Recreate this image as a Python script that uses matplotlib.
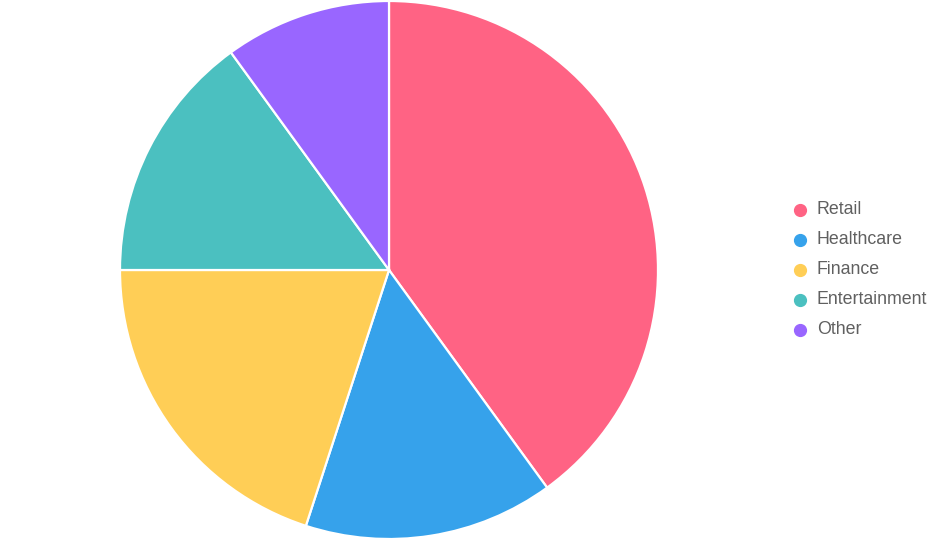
import matplotlib.pyplot as plt
from matplotlib.lines import Line2D

labels = ['Retail', 'Healthcare', 'Finance', 'Entertainment', 'Other']
values = [40, 15, 20, 15, 10]
colors = ['#FF6384', '#36A2EB', '#FFCE56', '#4BC0C0', '#9966FF']

W, H = 939, 542
fig = plt.figure(figsize=(W / 100, H / 100), dpi=100)

# pie centre (389, 270) px, radius 268 px
cx, cy, r = 389, 270, 269
ax = fig.add_axes([(cx - r) / W, 1 - (cy + r) / H, 2 * r / W, 2 * r / H])
ax.pie(values, colors=colors, startangle=90, counterclock=False,
       wedgeprops=dict(edgecolor='white', linewidth=1.6))
ax.set_aspect('equal')
ax.set_xlim(-1, 1)
ax.set_ylim(-1, 1)
ax.axis('off')

# legend on the right
for i, (lab, col) in enumerate(zip(labels, colors)):
    y = 1 - (210 + 30 * i) / H
    fig.add_artist(Line2D([800 / W], [y], marker='o', markersize=8.5,
                          markerfacecolor=col, markeredgecolor=col,
                          linestyle='none', transform=fig.transFigure))
    fig.text(817 / W, 1 - (209.5 + 30 * i) / H, lab, fontsize=12.8,
             color='#606060', family='Liberation Sans',
             va='center', ha='left')

fig.savefig('out.png', dpi=100)
